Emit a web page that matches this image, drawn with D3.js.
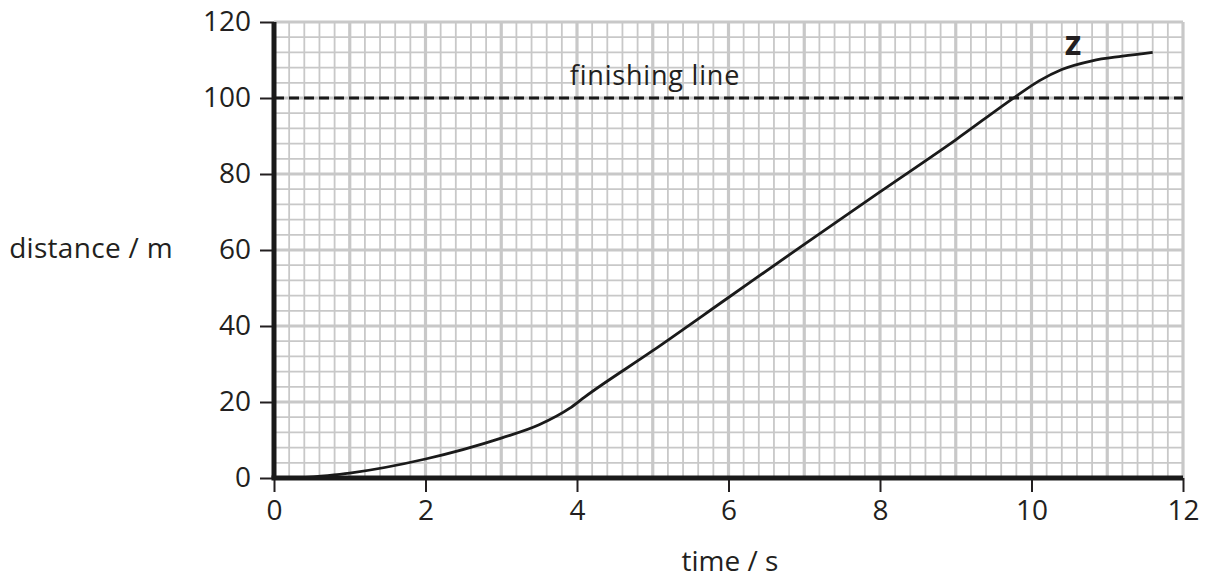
<!DOCTYPE html>
<html>
<head>
<meta charset="utf-8">
<script src="https://cdn.jsdelivr.net/npm/d3@7"></script>
<style>
  body { margin: 0; background: #fff; }
  svg text { font-family: "Open Sans", "Noto Sans", sans-serif; fill: #231f20; }
</style>
</head>
<body>
<svg id="chart"></svg>
<script>
// data
var timeS = [0.3, 1, 2, 3, 3.5, 3.9, 4.1, 5, 6, 7, 8, 9, 9.8, 10.1, 10.4, 10.8, 11.2, 11.6];
var distM = [0, 1.3, 5, 10.5, 14, 18.3, 21.3, 33.5, 47.5, 61.5, 75.3, 89, 100.5, 104.5, 107.5, 109.8, 111, 112];
var xTicks = [0, 2, 4, 6, 8, 10, 12];
var yTicks = [0, 20, 40, 60, 80, 100, 120];
var finishLine = 100;

var W = 1217, H = 578;
var x = d3.scaleLinear().domain([0, 12]).range([274, 1183]);
var y = d3.scaleLinear().domain([0, 120]).range([478, 22]);

var svg = d3.select('#chart').attr('width', W).attr('height', H);

// grid: minor every 0.2 s / 4 m, heavier every 1 s / 20 m
var grid = svg.append('g').attr('stroke', '#c8c8c8');
grid.selectAll('line.vx')
    .data(d3.range(0, 12.001, 0.2))
    .enter().append('line')
    .attr('x1', function(d) { return x(d); })
    .attr('x2', function(d) { return x(d); })
    .attr('y1', y(0)).attr('y2', y(120))
    .attr('stroke-width', function(d) { return Math.abs(d - Math.round(d)) < 1e-6 ? 3.2 : 1.8; });
grid.selectAll('line.hy')
    .data(d3.range(0, 120.001, 4))
    .enter().append('line')
    .attr('y1', function(d) { return y(d); })
    .attr('y2', function(d) { return y(d); })
    .attr('x1', x(0)).attr('x2', x(12))
    .attr('stroke-width', function(d) { return d % 20 === 0 ? 3.2 : 1.8; });

// finishing line
svg.append('line')
    .attr('x1', x(0)).attr('x2', x(12))
    .attr('y1', y(finishLine)).attr('y2', y(finishLine))
    .attr('stroke', '#1a1a1a').attr('stroke-width', 3)
    .attr('stroke-dasharray', '10,5');
svg.append('text')
    .attr('x', 655).attr('y', 85)
    .attr('text-anchor', 'middle')
    .attr('font-size', 27)
    .attr('letter-spacing', 0.8)
    .text('finishing line');

// curve
var line = d3.line()
    .x(function(d, i) { return x(timeS[i]); })
    .y(function(d) { return y(d); })
    .curve(d3.curveMonotoneX);
svg.append('path')
    .datum(distM)
    .attr('d', line)
    .attr('fill', 'none')
    .attr('stroke', '#1a1a1a')
    .attr('stroke-width', 2.8);

svg.append('text')
    .attr('x', 1073).attr('y', 55)
    .attr('text-anchor', 'middle')
    .attr('font-size', 34)
    .attr('font-weight', 'bold')
    .text('z');

// axes
var xAxis = svg.append('g')
    .attr('transform', 'translate(0,' + y(0) + ')')
    .call(d3.axisBottom(x).tickValues(xTicks).tickSize(14).tickPadding(8));
var yAxis = svg.append('g')
    .attr('transform', 'translate(' + x(0) + ',0)')
    .call(d3.axisLeft(y).tickValues(yTicks).tickSize(14).tickPadding(9));
[xAxis, yAxis].forEach(function(a) {
    a.select('.domain').remove();
    a.selectAll('line').attr('stroke', '#231f20').attr('stroke-width', 2);
    a.selectAll('text').attr('font-size', 28)
        .attr('font-family', '"Open Sans", "Noto Sans", sans-serif')
        .attr('fill', '#231f20');
});
svg.append('line')
    .attr('x1', x(0) - 2.5).attr('x2', x(12))
    .attr('y1', y(0)).attr('y2', y(0))
    .attr('stroke', '#1a1a1a').attr('stroke-width', 5);
svg.append('line')
    .attr('x1', x(0)).attr('x2', x(0))
    .attr('y1', y(0)).attr('y2', y(120))
    .attr('stroke', '#1a1a1a').attr('stroke-width', 5);

// axis titles
svg.append('text')
    .attr('x', 91).attr('y', 258)
    .attr('text-anchor', 'middle')
    .attr('font-size', 28)
    .attr('letter-spacing', 0.3)
    .text('distance / m');
svg.append('text')
    .attr('x', 730).attr('y', 571)
    .attr('text-anchor', 'middle')
    .attr('font-size', 28)
    .text('time / s');
</script>
</body>
</html>
